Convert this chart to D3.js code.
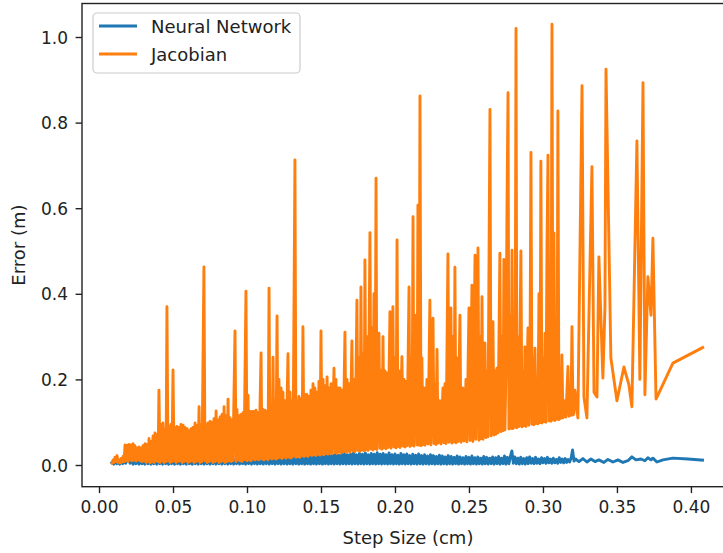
<!DOCTYPE html>
<html>
<head>
<meta charset="utf-8">
<script src="https://cdn.jsdelivr.net/npm/d3@7"></script>
<style>
  body { margin: 0; background: #fff; }
  text { font-family: "DejaVu Sans", sans-serif; fill: #222; }
</style>
</head>
<body>
<div id="chart"></div>
<script>
const width = 723, height = 553;

const seriesNames = ["Neural Network", "Jacobian"];
const seriesColors = ["#1f77b4", "#ff7f0e"];
const xTicks = [0, 0.05, 0.10, 0.15, 0.20, 0.25, 0.30, 0.35, 0.40];
const yTicks = [0, 0.2, 0.4, 0.6, 0.8, 1.0];

// [step size (cm), error (m)]
const neuralData = [
  [.008,.003],[.009,.007],[.010,.002],[.011,.008],[.012,.003],[.013,.006],[.014,.002],[.015,.009],[.016,.003],[.017,.010],
  [.018,.004],[.019,.016],[.020,.018],[.021,.004],[.022,.009],[.023,.002],[.024,.007],[.025,.003],[.026,.008],[.027,.002],
  [.028,.009],[.029,.003],[.030,.007],[.031,.002],[.032,.008],[.033,.003],[.034,.010],[.035,.002],[.036,.007],[.037,.003],
  [.038,.009],[.039,.002],[.040,.008],[.041,.003],[.042,.010],[.043,.002],[.044,.008],[.045,.003],[.046,.009],[.047,.002],
  [.048,.011],[.049,.003],[.050,.008],[.051,.002],[.052,.010],[.053,.003],[.054,.009],[.055,.002],[.056,.011],[.057,.003],
  [.058,.010],[.059,.002],[.060,.012],[.061,.003],[.062,.009],[.063,.002],[.064,.011],[.065,.003],[.066,.012],[.067,.002],
  [.068,.010],[.069,.003],[.070,.013],[.071,.002],[.072,.011],[.073,.003],[.074,.012],[.075,.002],[.076,.010],[.077,.003],
  [.078,.013],[.079,.002],[.080,.012],[.081,.003],[.082,.014],[.083,.002],[.084,.011],[.085,.003],[.086,.013],[.087,.002],
  [.088,.012],[.089,.003],[.090,.014],[.091,.002],[.092,.013],[.093,.003],[.094,.015],[.095,.002],[.096,.012],[.097,.003],
  [.098,.014],[.099,.002],[.100,.016],[.101,.003],[.102,.013],[.103,.002],[.104,.015],[.105,.003],[.106,.017],[.107,.002],
  [.108,.014],[.109,.003],[.110,.016],[.111,.002],[.112,.018],[.113,.003],[.114,.015],[.115,.002],[.116,.017],[.117,.003],
  [.118,.019],[.119,.002],[.120,.016],[.121,.003],[.122,.018],[.123,.002],[.124,.020],[.125,.003],[.126,.017],[.127,.002],
  [.128,.019],[.129,.003],[.130,.021],[.131,.002],[.132,.018],[.133,.003],[.134,.020],[.135,.002],[.136,.022],[.137,.003],
  [.138,.019],[.139,.002],[.140,.021],[.141,.003],[.142,.023],[.143,.002],[.144,.020],[.145,.003],[.146,.022],[.147,.002],
  [.148,.024],[.149,.003],[.150,.021],[.151,.002],[.152,.023],[.153,.003],[.154,.025],[.155,.002],[.156,.022],[.157,.003],
  [.158,.024],[.159,.002],[.160,.026],[.161,.003],[.162,.023],[.163,.002],[.164,.025],[.165,.003],[.166,.027],[.167,.002],
  [.168,.024],[.169,.003],[.170,.026],[.171,.002],[.172,.028],[.173,.003],[.174,.024],[.175,.002],[.176,.027],[.177,.003],
  [.178,.025],[.179,.002],[.180,.028],[.181,.003],[.182,.024],[.183,.002],[.184,.027],[.185,.003],[.186,.025],[.187,.002],
  [.188,.029],[.189,.003],[.190,.025],[.191,.002],[.192,.027],[.193,.003],[.194,.024],[.195,.002],[.196,.028],[.197,.003],
  [.198,.024],[.199,.002],[.200,.026],[.201,.003],[.202,.023],[.203,.002],[.204,.027],[.205,.003],[.206,.024],[.207,.002],
  [.208,.026],[.209,.003],[.210,.022],[.211,.002],[.212,.025],[.213,.003],[.214,.023],[.215,.002],[.216,.026],[.217,.003],
  [.218,.022],[.219,.002],[.220,.024],[.221,.003],[.222,.021],[.223,.002],[.224,.024],[.225,.003],[.226,.022],[.227,.002],
  [.228,.020],[.229,.003],[.230,.023],[.231,.002],[.232,.021],[.233,.003],[.234,.019],[.235,.002],[.236,.022],[.237,.003],
  [.238,.020],[.239,.002],[.240,.018],[.241,.003],[.242,.021],[.243,.002],[.244,.019],[.245,.003],[.246,.017],[.247,.002],
  [.248,.020],[.249,.003],[.250,.018],[.251,.002],[.252,.021],[.253,.003],[.254,.017],[.255,.002],[.256,.019],[.257,.003],
  [.258,.016],[.259,.002],[.260,.020],[.261,.003],[.262,.018],[.263,.002],[.264,.016],[.265,.003],[.266,.019],[.267,.002],
  [.268,.017],[.269,.003],[.270,.020],[.271,.002],[.272,.016],[.273,.003],[.274,.021],[.275,.002],[.276,.018],[.277,.003],
  [.278,.020],[.279,.033],[.280,.004],[.281,.019],[.282,.003],[.283,.016],[.284,.002],[.285,.018],[.286,.003],[.287,.015],
  [.288,.002],[.289,.017],[.290,.003],[.291,.019],[.292,.004],[.293,.015],[.294,.003],[.295,.018],[.296,.004],[.297,.014],
  [.298,.003],[.299,.017],[.300,.005],[.301,.015],[.302,.004],[.303,.018],[.304,.005],[.305,.014],[.306,.004],[.307,.016],
  [.308,.005],[.309,.013],[.310,.004],[.311,.017],[.312,.006],[.313,.014],[.314,.005],[.315,.015],[.316,.006],[.317,.013],
  [.318,.007],[.319,.016],[.320,.035],[.321,.009],[.322,.014],
  [.3243,.008],[.3270,.015],[.3297,.007],[.3324,.014],[.3351,.008],[.3378,.012],[.3412,.006],[.3439,.013],[.3473,.007],
  [.3507,.012],[.3541,.006],[.3574,.010],[.3601,.019],[.3628,.012],[.3662,.014],[.3689,.010],[.3709,.017],[.3730,.012],
  [.3743,.016],[.3770,.007],[.3811,.012],[.3878,.016],[.3980,.014],[.4088,.011]
];

const jacobianData = [
  [.0081,.006],[.0088,.004],[.0095,.012],[.0101,.006],[.0108,.018],[.0115,.008],[.0122,.022],[.0128,.006],
  [.0135,.012],[.0142,.005],[.0149,.015],[.0155,.007],[.0162,.020],[.0169,.008],[.0176,.047],[.0182,.010],
  [.0189,.046],[.0196,.008],[.0203,.048],[.0209,.012],[.0216,.047],[.0223,.010],[.0230,.050],[.0236,.012],
  [.0243,.045],[.0250,.009],[.0257,.040],[.0264,.012],[.0270,.042],[.0277,.010],[.0284,.040],[.0291,.008],
  [.0297,.045],[.0304,.010],[.0311,.050],[.0318,.006],[.0324,.048],[.0331,.008],[.0338,.062],[.0345,.005],
  [.0351,.055],[.0358,.008],[.0365,.068],[.0372,.006],[.0378,.075],[.0385,.010],[.0392,.072],[.0399,.008],
  [.0405,.175],[.0412,.006],[.0419,.095],[.0426,.010],[.0432,.098],[.0439,.006],[.0446,.085],[.0453,.008],
  [.0459,.370],[.0466,.010],[.0473,.090],[.0480,.006],[.0486,.095],[.0493,.008],[.0500,.222],[.0507,.010],
  [.0514,.088],[.0520,.006],[.0527,.090],[.0534,.008],[.0541,.088],[.0547,.010],[.0554,.095],[.0561,.006],
  [.0568,.093],[.0574,.008],[.0581,.088],[.0588,.010],[.0595,.085],[.0601,.006],[.0608,.080],[.0615,.008],
  [.0622,.085],[.0628,.010],[.0635,.088],[.0642,.006],[.0649,.098],[.0655,.008],[.0662,.092],[.0669,.010],
  [.0676,.136],[.0682,.006],[.0689,.095],[.0696,.008],[.0709,.463],[.0716,.010],[.0723,.095],[.0730,.006],
  [.0736,.098],[.0743,.008],[.0750,.102],[.0757,.010],[.0764,.100],[.0770,.006],[.0777,.108],[.0784,.008],
  [.0791,.126],[.0797,.010],[.0804,.105],[.0811,.006],[.0818,.112],[.0824,.008],[.0831,.118],[.0838,.010],
  [.0845,.136],[.0851,.006],[.0858,.115],[.0865,.008],[.0872,.154],[.0878,.010],[.0885,.110],[.0892,.008],
  [.0899,.105],[.0905,.010],[.0919,.313],[.0926,.008],[.0932,.130],[.0939,.012],[.0946,.115],[.0953,.010],
  [.0959,.118],[.0966,.008],[.0973,.122],[.0980,.012],[.0993,.406],[.1000,.010],[.1007,.163],[.1014,.012],
  [.1020,.125],[.1027,.010],[.1034,.125],[.1041,.014],[.1047,.125],[.1054,.012],[.1061,.128],[.1068,.014],
  [.1074,.122],[.1081,.012],[.1095,.262],[.1101,.014],[.1108,.130],[.1115,.012],[.1122,.128],[.1128,.015],
  [.1135,.125],[.1142,.012],[.1149,.413],[.1155,.016],[.1162,.135],[.1169,.014],[.1176,.252],[.1182,.016],
  [.1189,.150],[.1196,.014],[.1203,.348],[.1209,.016],[.1216,.200],[.1223,.018],[.1230,.180],[.1236,.015],
  [.1243,.170],[.1250,.018],[.1257,.150],[.1264,.016],[.1277,.260],[.1284,.018],[.1291,.170],[.1297,.016],
  [.1304,.150],[.1311,.020],[.1324,.713],[.1331,.018],[.1338,.150],[.1345,.020],[.1351,.160],[.1358,.018],
  [.1365,.155],[.1372,.022],[.1378,.323],[.1385,.020],[.1392,.165],[.1399,.022],[.1405,.165],[.1412,.020],
  [.1419,.160],[.1426,.024],[.1432,.175],[.1439,.022],[.1446,.190],[.1453,.024],[.1459,.180],[.1466,.022],
  [.1473,.170],[.1480,.025],[.1486,.195],[.1493,.023],[.1500,.313],[.1507,.026],[.1514,.200],[.1520,.024],
  [.1527,.185],[.1534,.027],[.1541,.206],[.1547,.025],[.1554,.180],[.1561,.028],[.1568,.190],[.1574,.026],
  [.1588,.226],[.1595,.029],[.1601,.200],[.1608,.027],[.1615,.180],[.1622,.030],[.1628,.180],[.1635,.028],
  [.1642,.175],[.1649,.031],[.1662,.310],[.1669,.029],[.1676,.200],[.1682,.032],[.1689,.190],[.1696,.030],
  [.1709,.290],[.1716,.033],[.1723,.200],[.1730,.031],[.1743,.385],[.1750,.034],[.1757,.250],[.1764,.032],
  [.1770,.416],[.1777,.035],[.1784,.260],[.1791,.033],[.1797,.479],[.1804,.036],[.1811,.300],[.1818,.034],
  [.1831,.543],[.1838,.037],[.1845,.320],[.1851,.035],[.1858,.400],[.1865,.038],[.1872,.670],[.1878,.036],
  [.1892,.308],[.1899,.039],[.1905,.220],[.1912,.037],[.1919,.300],[.1926,.040],[.1932,.220],[.1939,.038],
  [.1946,.215],[.1953,.041],[.1966,.358],[.1973,.039],[.1986,.370],[.1993,.042],[.2000,.250],[.2007,.040],
  [.2014,.526],[.2020,.043],[.2027,.220],[.2034,.041],[.2047,.253],[.2054,.044],[.2061,.200],[.2068,.042],
  [.2074,.195],[.2081,.045],[.2095,.416],[.2101,.043],[.2108,.250],[.2115,.046],[.2122,.580],[.2128,.044],
  [.2142,.350],[.2149,.047],[.2155,.607],[.2162,.046],[.2169,.862],[.2176,.045],[.2182,.250],[.2189,.048],
  [.2196,.180],[.2203,.046],[.2216,.200],[.2223,.049],[.2236,.385],[.2243,.047],[.2257,.343],[.2264,.050],
  [.2270,.190],[.2277,.048],[.2284,.270],[.2291,.051],[.2304,.150],[.2311,.049],[.2324,.180],[.2331,.052],
  [.2338,.190],[.2345,.050],[.2358,.493],[.2365,.053],[.2372,.250],[.2378,.367],[.2385,.051],[.2392,.300],
  [.2399,.054],[.2405,.462],[.2412,.052],[.2419,.250],[.2426,.055],[.2439,.350],[.2446,.053],[.2459,.180],
  [.2466,.056],[.2480,.200],[.2486,.054],[.2500,.367],[.2507,.057],[.2520,.420],[.2527,.055],[.2541,.490],
  [.2547,.060],[.2561,.507],[.2568,.058],[.2574,.300],[.2581,.062],[.2588,.393],[.2595,.060],[.2601,.220],
  [.2608,.285],[.2615,.064],[.2622,.220],[.2628,.066],[.2642,.831],[.2649,.068],[.2662,.335],[.2669,.070],
  [.2676,.220],[.2682,.072],[.2689,.226],[.2696,.075],[.2709,.495],[.2716,.078],[.2723,.300],[.2730,.080],
  [.2736,.480],[.2743,.082],[.2750,.220],[.2757,.600],[.2764,.870],[.2770,.084],[.2777,.350],[.2784,.086],
  [.2791,.502],[.2797,.085],[.2804,.300],[.2811,.088],[.2818,1.020],[.2824,.087],[.2831,.300],[.2838,.090],
  [.2851,.500],[.2858,.089],[.2865,.220],[.2872,.092],[.2878,.276],[.2885,.090],[.2899,.320],[.2905,.093],
  [.2912,.220],[.2919,.730],[.2926,.095],[.2932,.250],[.2939,.094],[.2946,.273],[.2953,.097],[.2959,.190],
  [.2966,.096],[.2973,.400],[.2980,.099],[.2986,.710],[.2993,.098],[.3000,.250],[.3007,.101],[.3014,.308],
  [.3020,.100],[.3027,.500],[.3034,.724],[.3041,.103],[.3047,.300],[.3054,.102],[.3061,1.030],[.3068,.105],
  [.3074,.542],[.3081,.104],[.3088,.300],[.3095,.107],[.3101,.827],[.3108,.106],[.3115,.200],[.3122,.109],
  [.3128,.257],[.3135,.110],[.3149,.150],[.3155,.112],[.3169,.230],[.3176,.114],[.3182,.150],[.3189,.116],
  [.3196,.323],[.3203,.117],[.3209,.120],[.3216,.175],[.3236,.110],[.3264,.886],[.3277,.159],[.3297,.110],
  [.3331,.697],[.3345,.170],[.3365,.159],[.3378,.486],[.3405,.203],[.3419,.370],[.3426,.925],[.3459,.250],
  [.3500,.150],[.3547,.229],[.3581,.187],[.3601,.136],[.3635,.757],[.3655,.200],[.3676,.893],[.3689,.164],
  [.3709,.440],[.3730,.350],[.3743,.530],[.3764,.154],[.3878,.238],[.4088,.276]
];

const svg = d3.select("#chart")
  .append("svg")
  .attr("width", width)
  .attr("height", height);

const x = d3.scaleLinear()
  .domain([-0.0115, 0.4291])
  .range([82, 734]);

const y = d3.scaleLinear()
  .domain([-0.0507, 1.0783])
  .range([486.7, 3.5]);

const [x0, x1] = x.range();
const [yb, yt] = y.range();

svg.append("defs").append("clipPath").attr("id", "plot-clip")
  .append("rect")
  .attr("x", x0).attr("y", yt)
  .attr("width", x1 - x0).attr("height", yb - yt);

const line = d3.line()
  .x(d => x(d[0]))
  .y(d => y(d[1]));

// neural network first, jacobian drawn on top of it
[neuralData, jacobianData].forEach((data, i) => {
  svg.append("path")
    .datum(data)
    .attr("clip-path", "url(#plot-clip)")
    .attr("fill", "none")
    .attr("stroke", seriesColors[i])
    .attr("stroke-width", 2.9)
    .attr("stroke-linejoin", "round")
    .attr("d", line);
});

// axes
const xAxis = svg.append("g")
  .attr("transform", `translate(0,${yb})`)
  .call(d3.axisBottom(x)
    .tickValues(xTicks)
    .tickFormat(d3.format(".2f"))
    .tickSize(6.4)
    .tickPadding(8));

const yAxis = svg.append("g")
  .attr("transform", `translate(${x0},0)`)
  .call(d3.axisLeft(y)
    .tickValues(yTicks)
    .tickFormat(d3.format(".1f"))
    .tickSize(6.4)
    .tickPadding(7.6));

[xAxis, yAxis].forEach(g => {
  g.select(".domain").remove();
  g.selectAll(".tick line").attr("stroke", "#222").attr("stroke-width", 1.4);
  g.selectAll(".tick text")
    .style("font-family", "'DejaVu Sans', sans-serif")
    .style("font-size", "17px")
    .attr("fill", "#222");
});
yAxis.selectAll(".tick text").attr("dy", "0.36em");

// frame
svg.append("rect")
  .attr("x", x0).attr("y", yt)
  .attr("width", x1 - x0).attr("height", yb - yt)
  .attr("fill", "none")
  .attr("stroke", "#222")
  .attr("stroke-width", 1.4);

// axis labels
svg.append("text")
  .attr("x", (x0 + x1) / 2)
  .attr("y", 544)
  .attr("text-anchor", "middle")
  .style("font-size", "18px")
  .text("Step Size (cm)");

svg.append("text")
  .attr("transform", `translate(25,${(yt + yb) / 2}) rotate(-90)`)
  .attr("text-anchor", "middle")
  .style("font-size", "18px")
  .text("Error (m)");

// legend
const legend = svg.append("g");

legend.append("rect")
  .attr("x", 93).attr("y", 13)
  .attr("width", 207).attr("height", 60)
  .attr("rx", 4)
  .attr("fill", "#fff")
  .attr("fill-opacity", 0.8)
  .attr("stroke", "#ccc")
  .attr("stroke-width", 1.2);

seriesNames.forEach((name, i) => {
  const ly = 26 + i * 28;
  legend.append("line")
    .attr("x1", 99).attr("x2", 137)
    .attr("y1", ly).attr("y2", ly)
    .attr("stroke", seriesColors[i])
    .attr("stroke-width", 2.9);
  legend.append("text")
    .attr("x", 151)
    .attr("y", ly + 7)
    .style("font-size", "18px")
    .text(name);
});
</script>
</body>
</html>
